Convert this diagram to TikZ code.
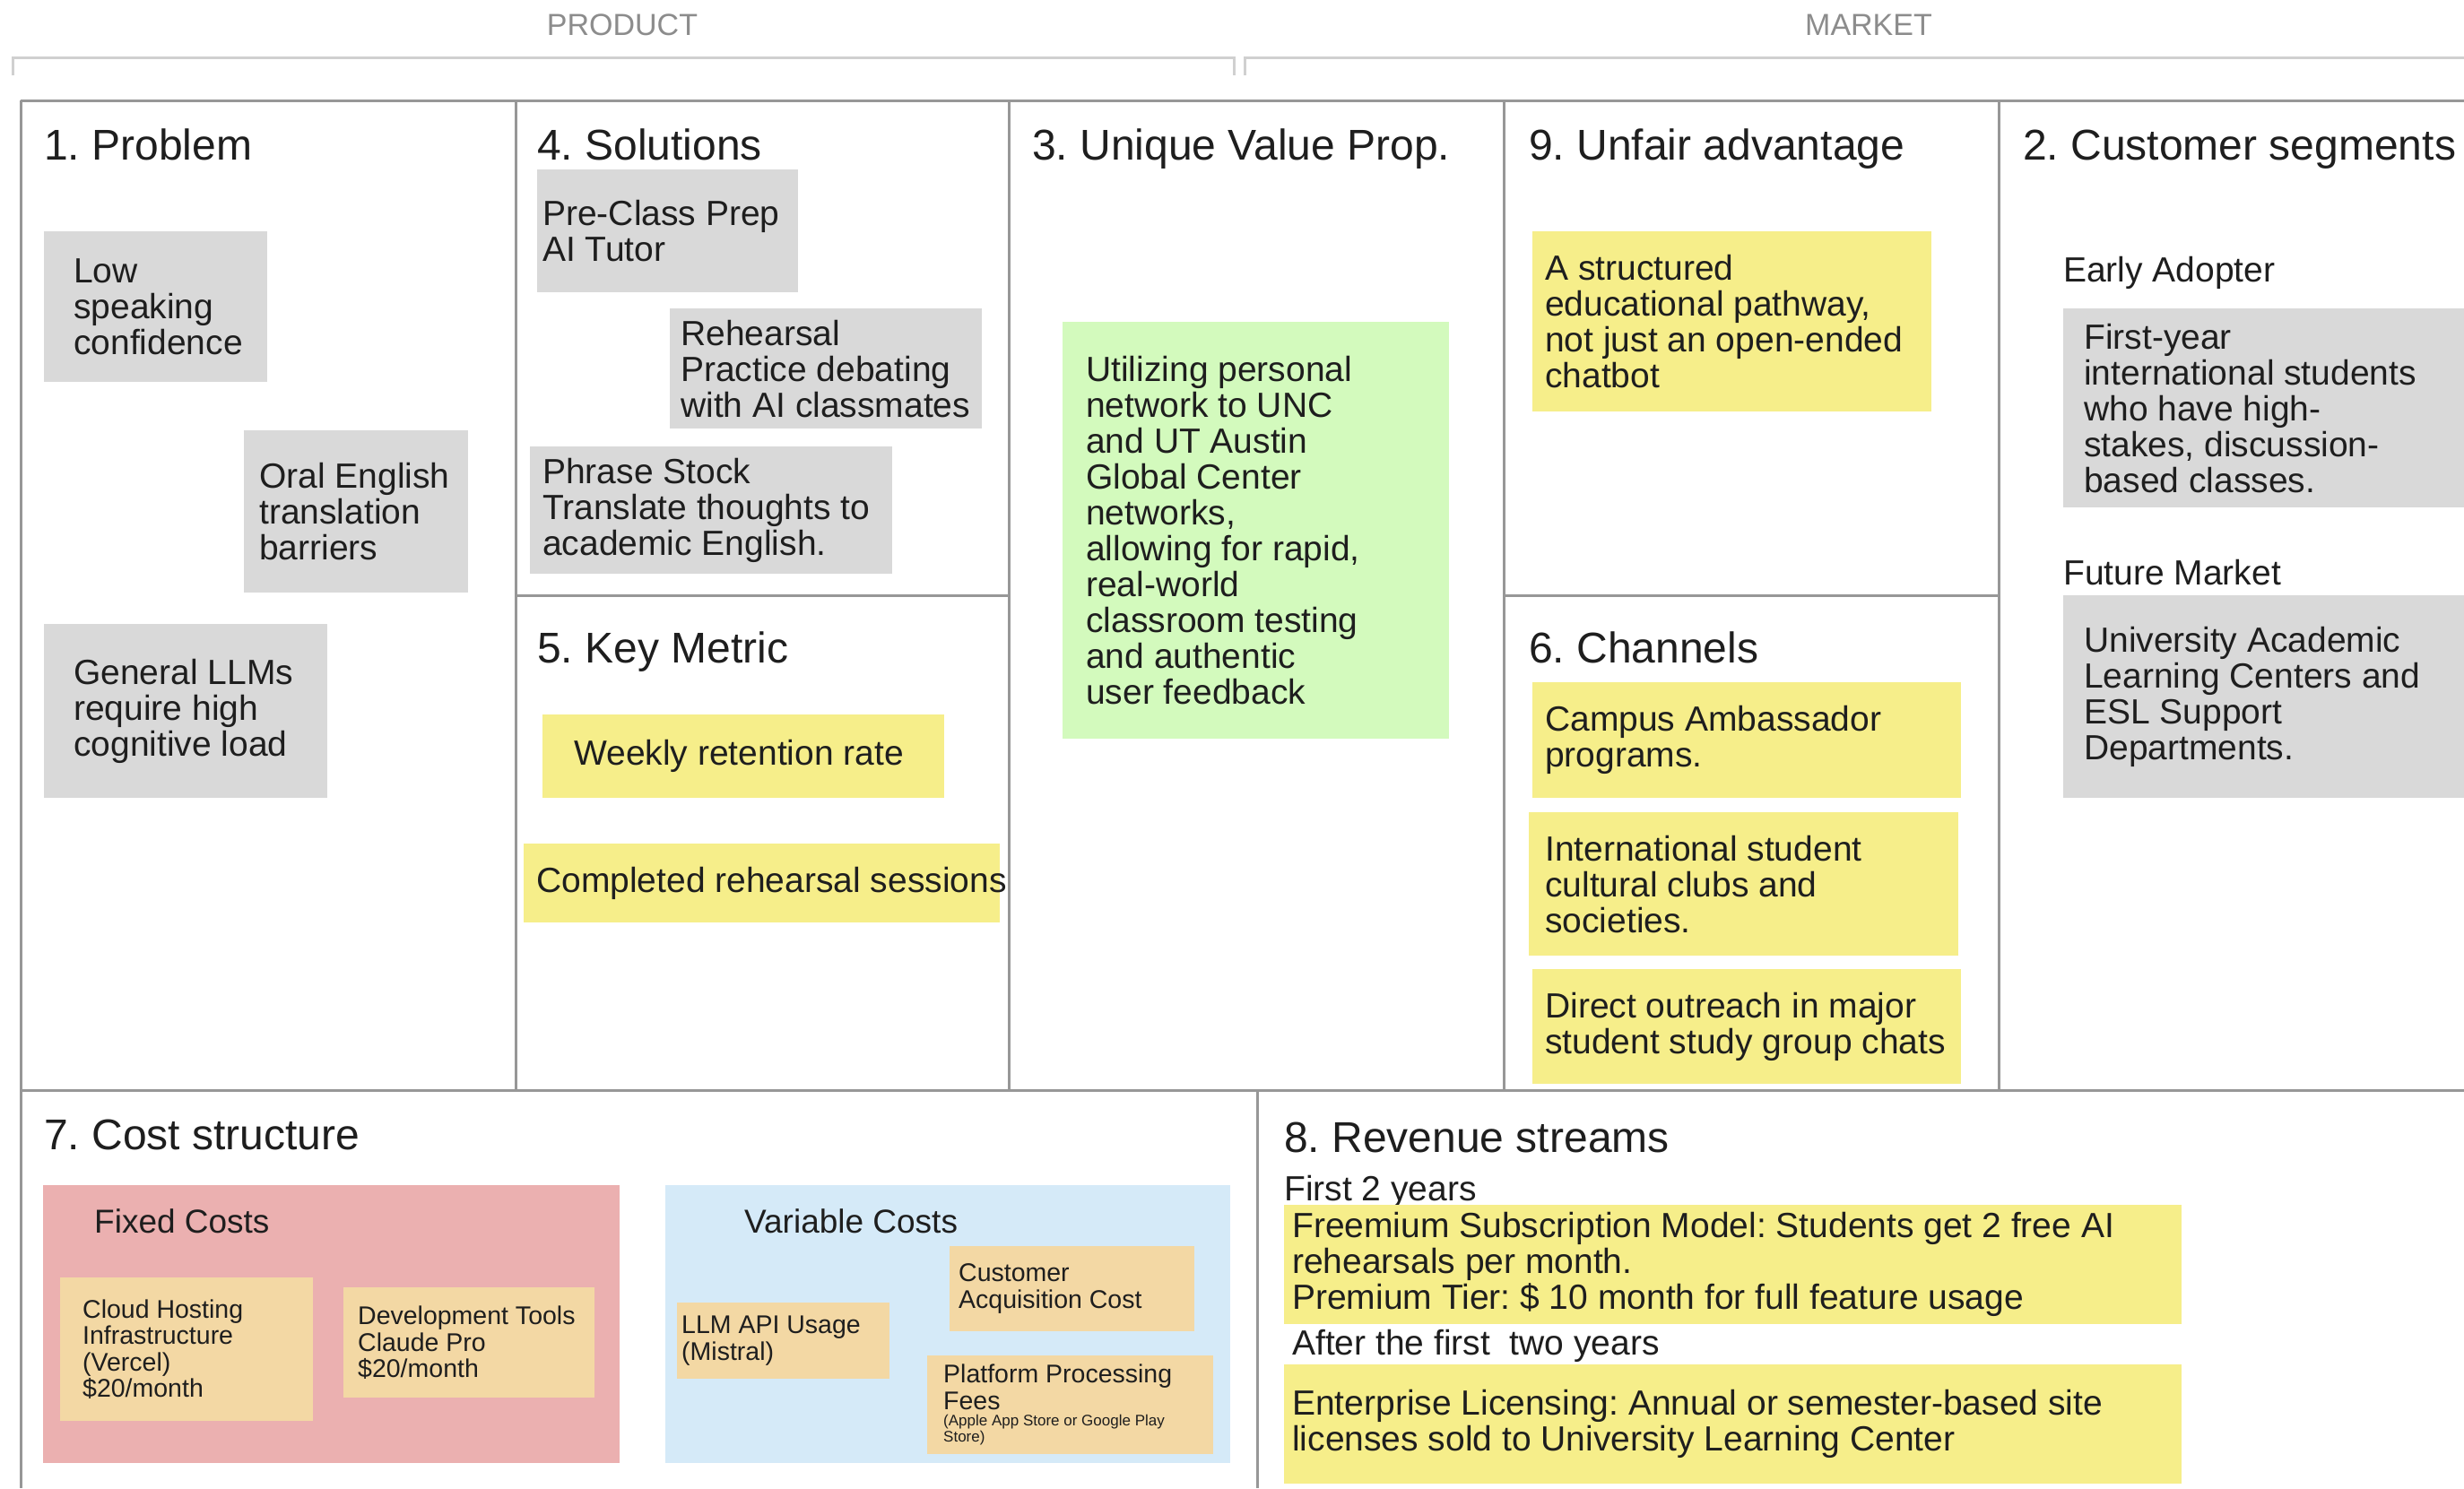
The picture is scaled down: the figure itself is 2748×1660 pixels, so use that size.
\documentclass[tikz,border=0pt]{standalone}
\usepackage{fontspec}
\setmainfont{Liberation Sans}
\usetikzlibrary{positioning}
\frenchspacing

\definecolor{ink}{HTML}{1E1E1E}
\definecolor{rulegray}{HTML}{979797}
\definecolor{bracketgray}{HTML}{D0D0D0}
\definecolor{bandgray}{HTML}{8C8C8C}
\definecolor{notegray}{HTML}{D9D9D9}
\definecolor{noteyellow}{HTML}{F6EE8A}
\definecolor{notegreen}{HTML}{D3FABD}
\definecolor{notetan}{HTML}{F3D8A4}
\definecolor{costred}{HTML}{EBB0B0}
\definecolor{costblue}{HTML}{D5EAF8}

\newcommand{\fsHead}{\fontsize{48}{52}\selectfont}
\newcommand{\fsNote}{\fontsize{39}{40}\selectfont}
\newcommand{\fsCost}{\fontsize{28.5}{29.5}\selectfont}
\newcommand{\fsTiny}{\fontsize{17}{18}\selectfont}
\newcommand{\fsBand}{\fontsize{34}{40}\selectfont}

% sticky note: name, x, y, width, height, colour, inset, text
\newcommand{\notebox}[8]{%
  \path (#2,#3) node[pad, fill=#6, minimum width=#4pt, minimum height=#5pt] (#1) {};
  \node[txt, right=#7pt of #1.west] (#1t) {#8};
}

\begin{document}
\begin{tikzpicture}[x=1pt, y=-1pt]
      \tikzstyle{every node}=[inner sep=0pt, text=ink]
      \tikzstyle{gridline}=[draw=rulegray, line width=3pt]
      \tikzstyle{head}=[anchor=base west, yshift=-17pt, font=\fsHead]
      \tikzstyle{sub}=[anchor=base west, yshift=-14pt, font=\fsNote]
      \tikzstyle{band}=[font=\fsBand, text=bandgray]
      \tikzstyle{pad}=[anchor=north west, rectangle]
      \tikzstyle{txt}=[align=left, font=\fsNote]

      \useasboundingbox[fill=white] (0,0) rectangle (2748,1660);

      % product / market bands
      \path (694,28) node[band] (product) {PRODUCT};
      \path (2084,28) node[band] (market) {MARKET};
      \draw[bracketgray, line width=3pt]
        (14,84) -- (14,64) -- (1376,64) -- (1376,84)
        (1388,84) -- (1388,64) -- (2748,64);

      % canvas
      \draw[gridline]
        (23,112) -- (2748,112)
        (23,1216) -- (2748,1216)
        (23,112) -- (23,1660)
        (1402,1216) -- (1402,1660)
        (575,664) -- (1125,664)
        (1677,664) -- (2229,664);
      \foreach \x in {575, 1125, 1677, 2229}
      {
        \draw[gridline] (\x,112) -- (\x,1216);
      }

      \foreach \n/\x/\y/\t in {problem/49/161/1. Problem, solutions/599/161/4. Solutions,
          uvp/1151/161/3. Unique Value Prop., unfair/1705/161/9. Unfair advantage,
          segments/2256/161/2. Customer segments, metric/599/722/5. Key Metric,
          channels/1705/722/6. Channels, cost/49/1265/7. Cost structure,
          revenue/1432/1268/8. Revenue streams}
      {
        \path (\x,\y) node[head] (\n) {\t};
      }

      % problem
      \notebox{p1}{49}{258}{249}{168}{notegray}{33}{Low\\speaking\\confidence}
      \notebox{p2}{272}{480}{250}{181}{notegray}{17}{Oral English\\translation\\barriers}
      \notebox{p3}{49}{696}{316}{194}{notegray}{33}{General LLMs\\require high\\cognitive load}

      % solutions
      \notebox{s1}{599}{189}{291}{137}{notegray}{6}{Pre-Class Prep\\AI Tutor}
      \notebox{s2}{747}{344}{348}{134}{notegray}{12}{Rehearsal\\Practice debating\\with AI classmates}
      \notebox{s3}{591}{498}{404}{142}{notegray}{14}{Phrase Stock\\Translate thoughts to\\academic English.}

      % key metric
      \notebox{k1}{605}{797}{448}{93}{noteyellow}{35}{Weekly retention rate}
      \notebox{k2}{584}{941}{531}{88}{noteyellow}{14}{Completed rehearsal sessions}

      % unique value prop
      \notebox{u1}{1185}{359}{431}{465}{notegreen}{26}{Utilizing personal\\network to UNC\\and UT Austin\\Global Center\\networks,\\allowing for rapid,\\real-world\\classroom testing\\and authentic\\user feedback}

      % unfair advantage and channels
      \notebox{a1}{1709}{258}{445}{201}{noteyellow}{14}{A structured\\educational pathway,\\not just an open-ended\\chatbot}
      \notebox{c1}{1709}{761}{478}{129}{noteyellow}{14}{Campus Ambassador\\programs.}
      \notebox{c2}{1705}{906}{479}{160}{noteyellow}{18}{International student\\cultural clubs and\\societies.}
      \notebox{c3}{1709}{1081}{478}{128}{noteyellow}{14}{Direct outreach in major\\student study group chats}

      % customer segments
      \path (2301,300) node[sub] (early) {Early Adopter};
      \notebox{g1}{2301}{344}{460}{222}{notegray}{23}{First-year\\international students\\who have high-\\stakes, discussion-\\based classes.}
      \path (2301,638) node[sub] (future) {Future Market};
      \notebox{g2}{2301}{664}{460}{226}{notegray}{23}{University Academic\\Learning Centers and\\ESL Support\\Departments.}

      % cost structure
      \path (48,1322) node[pad, fill=costred, minimum width=643pt, minimum height=310pt] (fixed) {};
      \path (742,1322) node[pad, fill=costblue, minimum width=630pt, minimum height=310pt] (variable) {};
      \path (105,1361) node[sub, font=\fontsize{37}{40}\selectfont] (fixedt) {Fixed Costs};
      \path (830,1361) node[sub, font=\fontsize{37}{40}\selectfont] (variablet) {Variable Costs};
      \begin{scope}[txt/.append style={font=\fsCost}]
        \notebox{f1}{67}{1425}{282}{160}{notetan}{25}{Cloud Hosting\\Infrastructure\\(Vercel)\\\$20/month}
        \notebox{f2}{383}{1436}{280}{123}{notetan}{16}{Development Tools\\Claude Pro\\\$20/month}
        \notebox{v1}{755}{1453}{237}{85}{notetan}{5}{LLM API Usage\\(Mistral)}
        \notebox{v2}{1059}{1390}{273}{95}{notetan}{10}{Customer\\Acquisition Cost}
        \notebox{v3}{1034}{1512}{319}{110}{notetan}{18}{Platform Processing\\Fees\\[-11pt]\fsTiny (Apple App Store or Google Play\\[-11.5pt]\fsTiny Store)}
      \end{scope}

      % revenue streams
      \path (1432,1325) node[sub] (first) {First 2 years};
      \notebox{r1}{1432}{1344}{1001}{133}{noteyellow}{9}{Freemium Subscription Model: Students get 2 free AI\\rehearsals per month.\\Premium Tier: \$ 10 month for full feature usage}
      \path (1441,1497) node[sub] (after) {After the first\ \ two years};
      \notebox{r2}{1432}{1522}{1001}{133}{noteyellow}{9}{Enterprise Licensing: Annual or semester-based site\\licenses sold to University Learning Center}
    \end{tikzpicture}
\end{document}
